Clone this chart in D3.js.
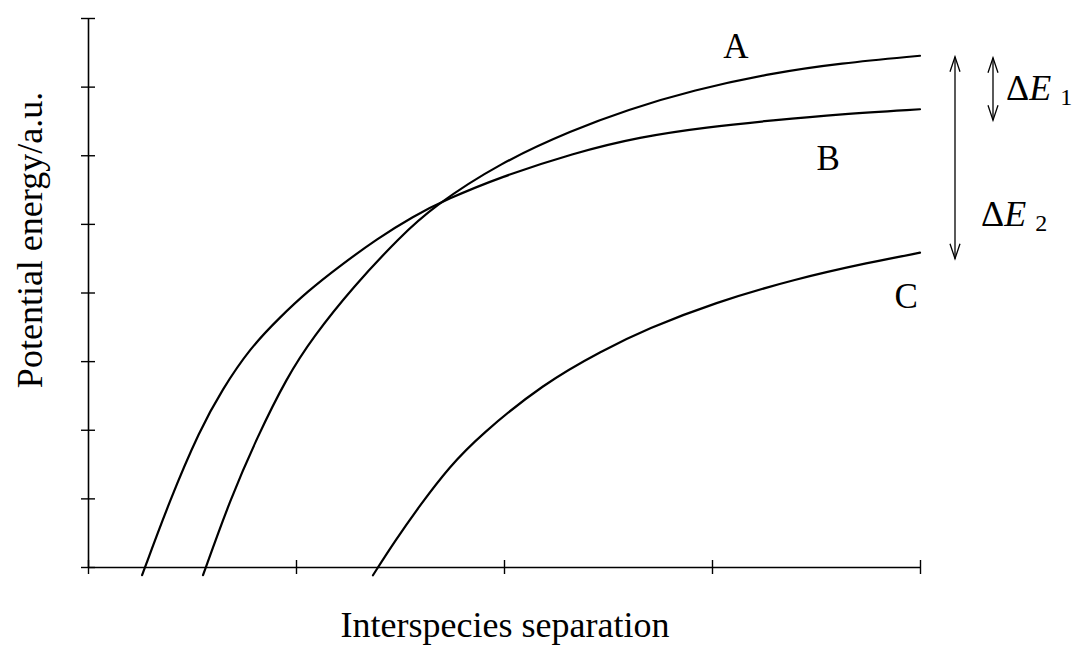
<!DOCTYPE html>
<html>
<head>
<meta charset="utf-8">
<script src="https://cdn.jsdelivr.net/npm/d3@7"></script>
<style>
  html, body { margin: 0; padding: 0; background: #fff; }
  svg { display: block; }
  text { font-family: "Liberation Serif", "Times New Roman", serif; fill: #000; }
</style>
</head>
<body>
<svg id="chart" width="1078" height="646"></svg>
<script>
// Tick positions (unlabelled) on each axis
const xTicks = [0, 1, 2, 3, 4];
const yTicks = [0, 1, 2, 3, 4, 5, 6, 7, 8];

// Potential-energy curves: separation (x) vs energy (y), arbitrary units
const curveA = [
  [0.553, -0.12], [0.683, 0.98], [0.813, 1.89], [0.957, 2.77], [1.082, 3.35],
  [1.274, 4.08], [1.500, 4.81], [1.659, 5.25], [1.981, 5.89], [2.332, 6.37],
  [2.591, 6.66], [2.909, 6.95], [3.293, 7.20], [3.615, 7.34], [4.000, 7.45]
];
const curveB = [
  [0.260, -0.12], [0.394, 0.98], [0.538, 2.00], [0.644, 2.58], [0.779, 3.19],
  [0.923, 3.64], [1.053, 4.01], [1.212, 4.39], [1.389, 4.78], [1.563, 5.11],
  [1.726, 5.36], [1.981, 5.68], [2.332, 6.03], [2.654, 6.27], [2.976, 6.41],
  [3.293, 6.51], [3.615, 6.60], [4.000, 6.67]
];
const curveC = [
  [1.370, -0.12], [1.476, 0.38], [1.596, 0.90], [1.740, 1.47], [1.885, 1.92],
  [2.188, 2.67], [2.476, 3.16], [2.688, 3.47], [3.010, 3.85], [3.404, 4.20],
  [3.760, 4.44], [4.000, 4.58]
];
const curveNames = ["A", "B", "C"];
// Label anchor points (data units) for the curve names
const labelPos = [[3.115, 7.42], [3.558, 5.79], [3.933, 3.77]];

const svg = d3.select("#chart");
const x = d3.scaleLinear().domain([0, 4]).range([88, 920]);
const y = d3.scaleLinear().domain([0, 8]).range([567, 18]);

// Axes with ticks crossing the axis line
const xAxis = svg.append("g")
  .attr("transform", `translate(0,${y(0)})`)
  .call(d3.axisBottom(x).tickValues(xTicks).tickFormat("").tickSizeOuter(0));
xAxis.selectAll(".tick line").attr("y1", -7).attr("y2", 7);

const yAxis = svg.append("g")
  .attr("transform", `translate(${x(0)},0)`)
  .call(d3.axisLeft(y).tickValues(yTicks).tickFormat("").tickSizeOuter(0));
yAxis.selectAll(".tick line").attr("x1", -7).attr("x2", 7);

[xAxis, yAxis].forEach(g => {
  g.select(".domain").attr("stroke", "#000").attr("stroke-width", 1.6);
  g.selectAll(".tick line").attr("stroke", "#000").attr("stroke-width", 1.4);
});

// Curves, smoothed with a B-spline through the sampled points
const line = d3.line()
  .x(d => x(d[0]))
  .y(d => y(d[1]))
  .curve(d3.curveBasis);

[curveA, curveB, curveC].forEach(c => {
  svg.append("path")
    .datum(c)
    .attr("d", line)
    .attr("fill", "none")
    .attr("stroke", "#000")
    .attr("stroke-width", 2.2)
    .attr("stroke-linecap", "round");
});

// Curve names
svg.selectAll(".curve-label")
  .data(curveNames)
  .join("text")
  .attr("class", "curve-label")
  .attr("x", (d, i) => x(labelPos[i][0]))
  .attr("y", (d, i) => y(labelPos[i][1]))
  .attr("text-anchor", "middle")
  .attr("font-size", 35)
  .text(d => d);

// Energy-gap double arrows
const topA = curveA[curveA.length - 1][1];
const endB = curveB[curveB.length - 1][1];
const endC = curveC[curveC.length - 1][1];

function doubleArrow(px, y1, y2) {
  const g = svg.append("g")
    .attr("stroke", "#000").attr("fill", "none").attr("stroke-width", 1.3);
  g.append("line").attr("x1", px).attr("x2", px).attr("y1", y1).attr("y2", y2);
  const hw = 5, hl = 15;
  g.append("path").attr("d", `M${px - hw},${y1 + hl}L${px},${y1}L${px + hw},${y1 + hl}`);
  g.append("path").attr("d", `M${px - hw},${y2 - hl}L${px},${y2}L${px + hw},${y2 - hl}`);
}
doubleArrow(955, y(topA) + 1, y(endC) + 6);
doubleArrow(993, y(topA) + 2, y(endB) + 11);

function deltaLabel(px, py, sub) {
  const t = svg.append("text")
    .attr("x", px).attr("y", py)
    .attr("font-size", 36);
  t.append("tspan").text("Δ");
  t.append("tspan").attr("font-style", "italic").text("E");
  t.append("tspan").attr("dx", 9).attr("dy", 5).attr("font-size", 24).text(sub);
}
deltaLabel(1006, 100, "1");
deltaLabel(981, 226, "2");

// Axis titles
svg.append("text")
  .attr("x", 505).attr("y", 637)
  .attr("text-anchor", "middle")
  .attr("font-size", 36)
  .text("Interspecies separation");

svg.append("text")
  .attr("transform", "translate(42,240) rotate(-90)")
  .attr("text-anchor", "middle")
  .attr("font-size", 36)
  .text("Potential energy/a.u.");
</script>
</body>
</html>
